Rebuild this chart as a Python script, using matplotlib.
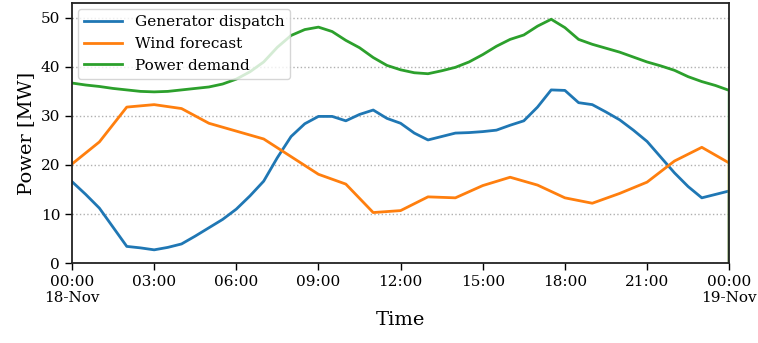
import matplotlib.pyplot as plt
import numpy as np

plt.rcParams['font.family'] = ['DejaVu Serif']

# hours after 00:00 18-Nov
hours_half = [i * 0.5 for i in range(49)]
hours_full = list(range(25))

gen_dispatch = [16.6, 14.0, 11.2, 7.3, 3.4, 3.1, 2.7, 3.2, 3.9, 5.5, 7.2, 8.9,
                11.0, 13.7, 16.7, 21.5, 25.8, 28.4, 29.9, 29.9, 29.0, 30.3, 31.2, 29.5,
                28.5, 26.5, 25.1, 25.8, 26.5, 26.6, 26.8, 27.1, 28.1, 29.0, 31.8, 35.3,
                35.2, 32.7, 32.3, 30.8, 29.2, 27.1, 24.8, 21.6, 18.4, 15.6, 13.3, 14.0,
                14.7]
wind_forecast = [20.2, 24.7, 31.8, 32.3, 31.5, 28.5, 26.9, 25.3, 21.7, 18.1, 16.1, 10.3,
                 10.7, 13.5, 13.3, 15.8, 17.5, 15.9, 13.3, 12.2, 14.2, 16.5, 20.8, 23.6,
                 20.4]
power_demand = [36.7, 36.3, 36.0, 35.6, 35.3, 35.0, 34.9, 35.0, 35.3, 35.6, 35.9, 36.5,
                37.5, 39.0, 41.0, 44.0, 46.4, 47.6, 48.1, 47.2, 45.4, 43.9, 41.9, 40.3,
                39.4, 38.8, 38.6, 39.2, 39.9, 41.0, 42.5, 44.2, 45.6, 46.5, 48.3, 49.7,
                48.0, 45.6, 44.6, 43.8, 43.0, 42.0, 41.0, 40.2, 39.3, 38.0, 37.0, 36.2,
                35.2]

tick_hours = [0, 3, 6, 9, 12, 15, 18, 21, 24]
tick_labels = ['00:00\n18-Nov', '03:00', '06:00', '09:00', '12:00', '15:00', '18:00',
               '21:00', '00:00\n19-Nov']

fig = plt.figure(figsize=(7.58, 3.43), dpi=100)
ax = fig.add_axes([0.095, 0.233, 0.867, 0.758])

# each series drops to zero at the very end of the day
ax.plot(hours_half + [24], gen_dispatch + [0], color='#1f77b4', lw=2, label='Generator dispatch')
ax.plot(hours_full + [24], wind_forecast + [0], color='#ff7f0e', lw=2, label='Wind forecast')
ax.plot(hours_half + [24], power_demand + [0], color='#2ca02c', lw=2, label='Power demand')

ax.set_xlim(0, 24)
ax.set_ylim(0, 53)
ax.set_xticks(tick_hours)
ax.set_xticklabels(tick_labels)
ax.set_yticks([0, 10, 20, 30, 40, 50])
ax.tick_params(labelsize=11, direction='out', length=5, width=1)
ax.grid(axis='y', linestyle=':', color='#b0b0b0', lw=1)
for s in ax.spines.values():
    s.set_linewidth(1.3)
    s.set_color('#222222')

ax.set_xlabel('Time', fontsize=14)
ax.set_ylabel('Power [MW]', fontsize=14)
ax.legend(loc='upper left', fontsize=11, framealpha=0.8, handlelength=2.5,
          borderaxespad=0.4)

fig.savefig('out.png', dpi=100)
